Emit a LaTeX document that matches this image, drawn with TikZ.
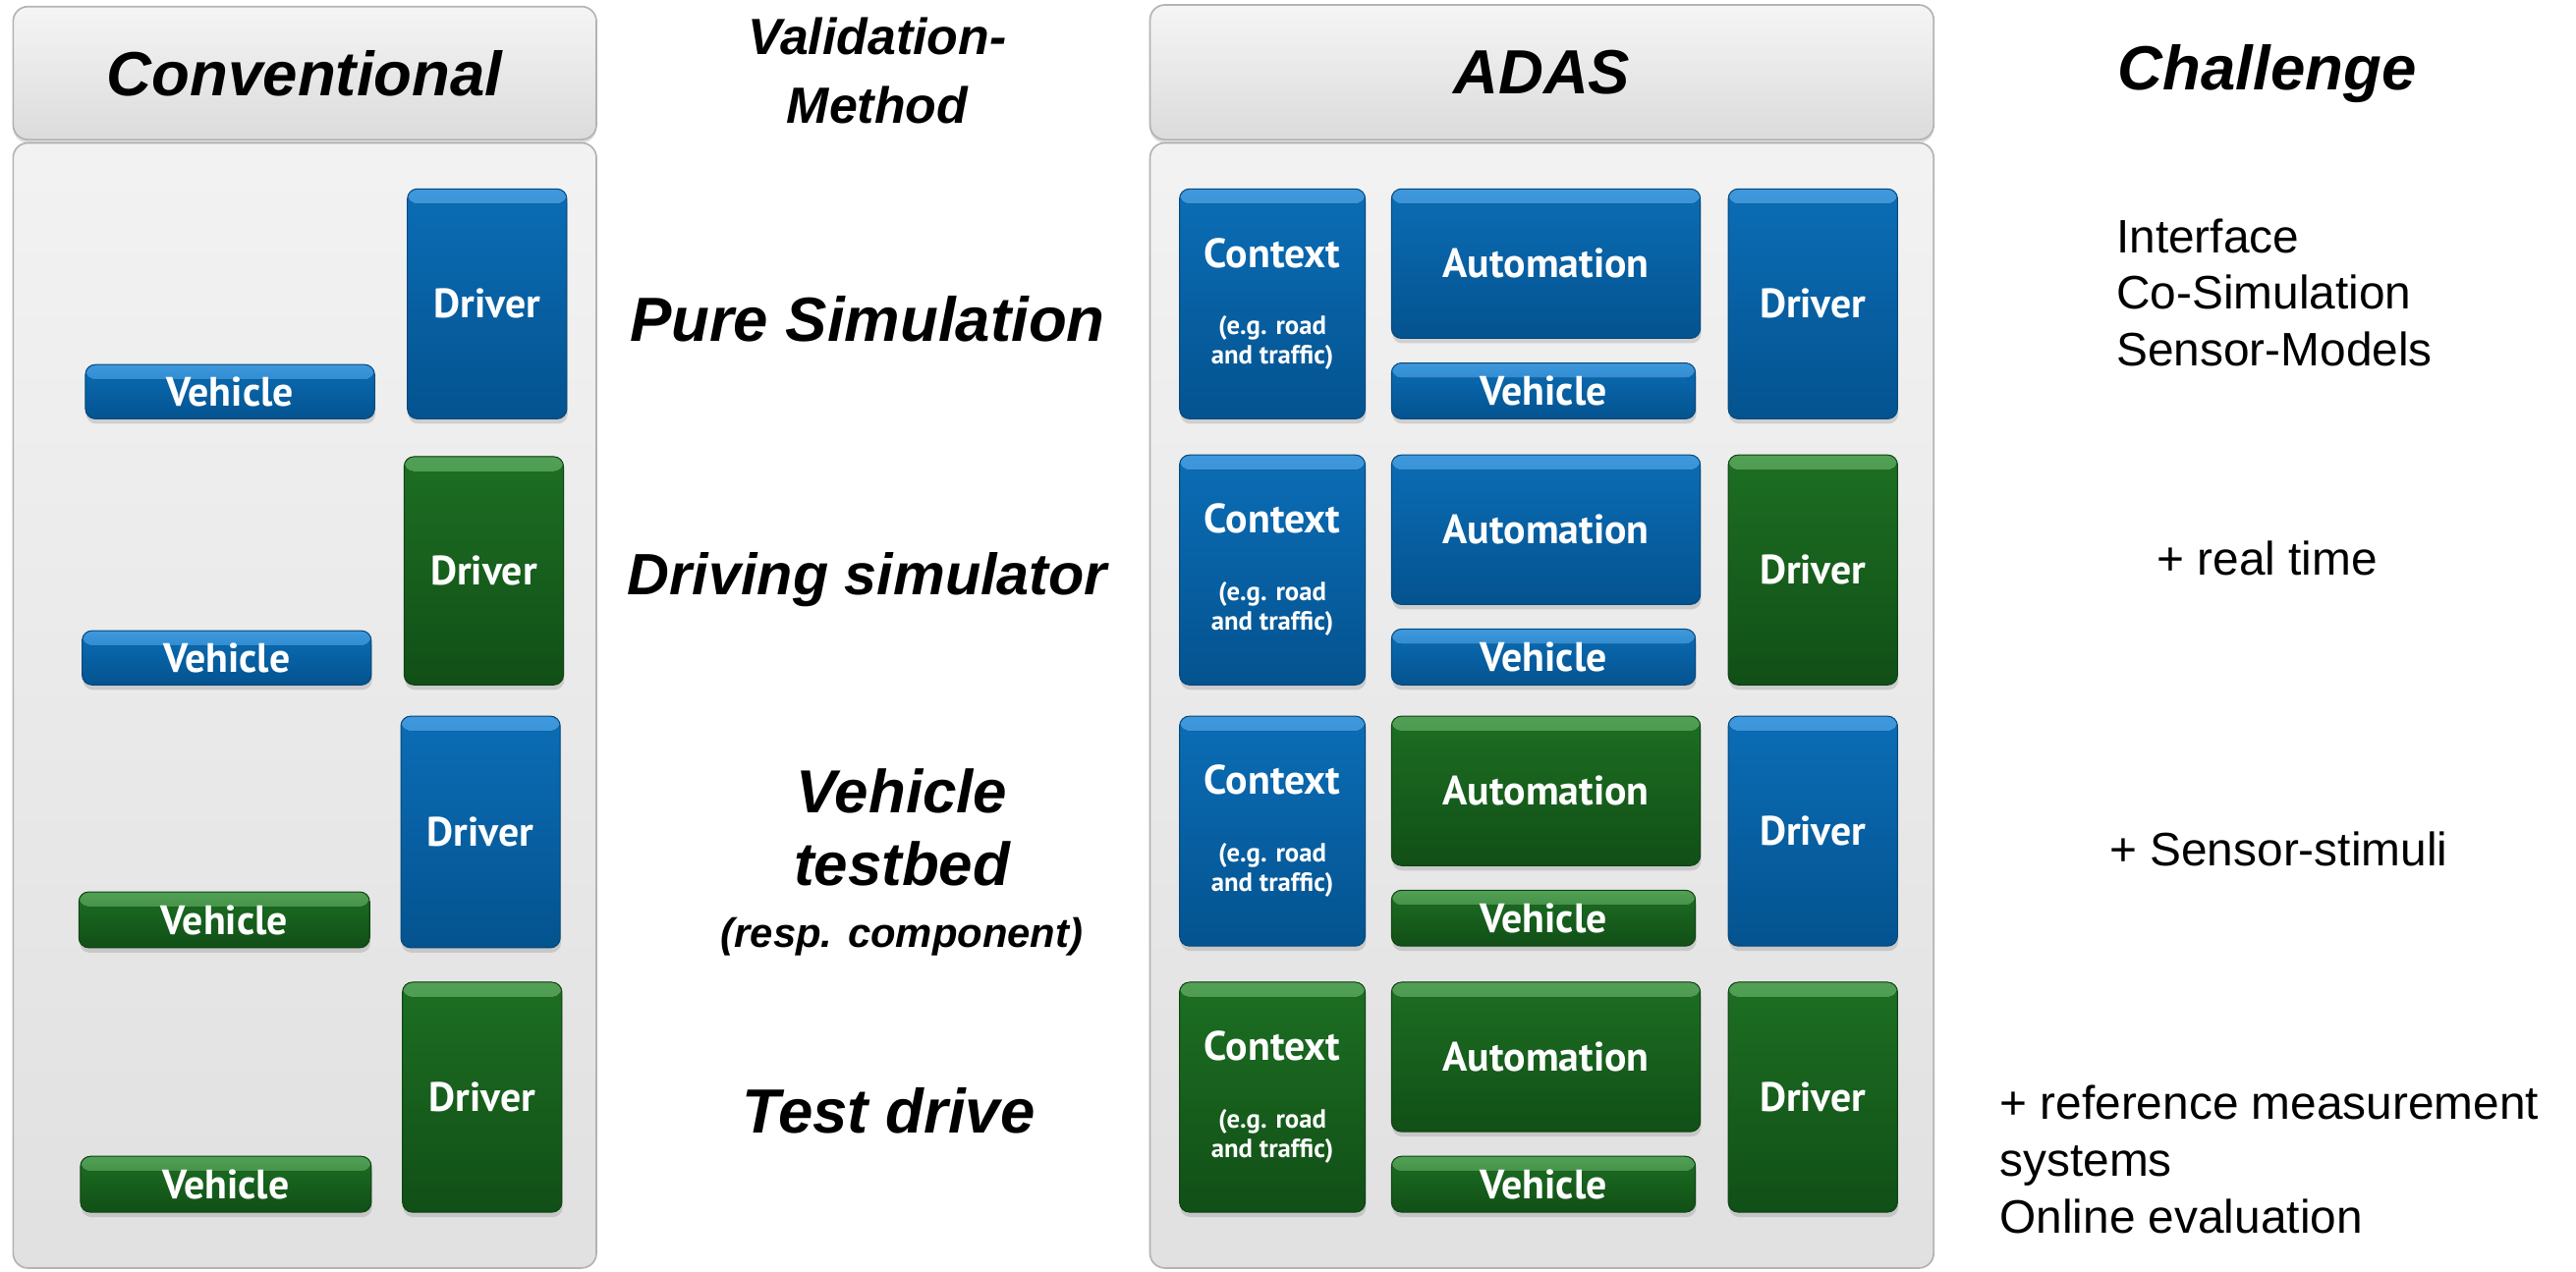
\documentclass[tikz,border=0pt]{standalone}
\usepackage{fontspec}
\setmainfont{Liberation Sans}
\newfontfamily\boxfont{PT Sans}
\usetikzlibrary{shadows}
\definecolor{blutop}{HTML}{0B6DB6}
\definecolor{blubot}{HTML}{04538F}
\definecolor{bluhi}{HTML}{3F98DC}
\definecolor{blurim}{HTML}{03487D}
\definecolor{grntop}{HTML}{1D6F23}
\definecolor{grnbot}{HTML}{114F17}
\definecolor{grnhi}{HTML}{52A055}
\definecolor{grnrim}{HTML}{0E4313}
\definecolor{panelrim}{HTML}{B3B3B3}

\begin{document}
\begin{tikzpicture}[x=1pt,y=-1pt,
  headbox/.style={draw=panelrim,line width=1pt,rounded corners=9pt,top color=black!4,bottom color=black!14,
    drop shadow={shadow xshift=0pt,shadow yshift=-2pt,opacity=0.25},
    font=\bfseries\itshape\fontsize{38}{44}\selectfont},
  bodybox/.style={draw=panelrim,line width=1pt,rounded corners=9pt,top color=black!5,bottom color=black!12},
  box/.style={rounded corners=6pt,line width=0.6pt,inner sep=0pt,text=white,
    font=\boxfont\bfseries\fontsize{25}{30}\selectfont,
    drop shadow={shadow xshift=0.5pt,shadow yshift=-3pt,opacity=0.28}},
  blu/.style={box,draw=blurim,top color=blutop,bottom color=blubot,
    path picture={\fill[top color=bluhi,bottom color=blutop] (path picture bounding box.north west) rectangle ([yshift=-9pt]path picture bounding box.north east);}},
  grn/.style={box,draw=grnrim,top color=grntop,bottom color=grnbot,
    path picture={\fill[top color=grnhi,bottom color=grntop] (path picture bounding box.north west) rectangle ([yshift=-9pt]path picture bounding box.north east);}},
  method/.style={align=center,inner sep=0pt,font=\bfseries\itshape\fontsize{38}{44}\selectfont},
  chal/.style={align=left,inner sep=0pt,font=\fontsize{28.6}{34.5}\selectfont},
  ctxtext/.style={align=center}]
  \useasboundingbox (0,0) rectangle (1568,774);

  % column frames
  \node[bodybox,minimum width=355pt,minimum height=685pt] (convbody) at (185.5,429.5) {};
  \node[bodybox,minimum width=477pt,minimum height=685pt] (adasbody) at (938.5,429.5) {};
  \node[headbox,minimum width=355pt,minimum height=81pt] (convhead) at (185.5,44.5) {Conventional};
  \node[headbox,minimum width=477pt,minimum height=82pt] (adashead) at (938.5,44) {ADAS};
  \node[method,font=\bfseries\itshape\fontsize{31}{42}\selectfont] (valhead) at (534,43) {Validation-\\Method};
  \node[method] (chalhead) at (1380,45) {Challenge};

  % conventional column
  \node[blu,minimum width=97pt,minimum height=140pt] (cdrv1) at (296.5,185) {Driver};
  \node[blu,minimum width=176pt,minimum height=33pt] (cveh1) at (140,238.5) {Vehicle};
  \node[grn,minimum width=97pt,minimum height=139pt] (cdrv2) at (294.5,347.5) {Driver};
  \node[blu,minimum width=176pt,minimum height=33pt] (cveh2) at (138,400.5) {Vehicle};
  \node[blu,minimum width=97pt,minimum height=141pt] (cdrv3) at (292.5,506.5) {Driver};
  \node[grn,minimum width=177pt,minimum height=34pt] (cveh3) at (136.5,560) {Vehicle};
  \node[grn,minimum width=97pt,minimum height=140pt] (cdrv4) at (293.5,668) {Driver};
  \node[grn,minimum width=177pt,minimum height=34pt] (cveh4) at (137.5,721) {Vehicle};

  % validation methods
  \node[method] (meth1) at (528,194) {Pure Simulation};
  \node[method,font=\bfseries\itshape\fontsize{35.5}{44}\selectfont] (meth2) at (528,353) {Driving simulator};
  \node[method,font=\bfseries\itshape\fontsize{37}{44}\selectfont] (meth3) at (549,525)
    {Vehicle\\testbed\\[-6pt]{\fontsize{25}{28}\selectfont (resp. component)}};
  \node[method] (meth4) at (541,676) {Test drive};

  % ADAS column
  \node[blu,ctxtext,minimum width=113pt,minimum height=140pt] (ctx1) at (774.5,185)
    {Context\\[11pt]{\fontsize{16}{18}\selectfont (e.g. road}\\[-12pt]{\fontsize{16}{18}\selectfont and traffic)}};
  \node[blu,minimum width=188pt,minimum height=91pt] (aut1) at (941,160.5) {Automation};
  \node[blu,minimum width=185pt,minimum height=34pt] (aveh1) at (939.5,238) {Vehicle};
  \node[blu,minimum width=103pt,minimum height=140pt] (adrv1) at (1103.5,185) {Driver};

  \node[blu,ctxtext,minimum width=113pt,minimum height=140pt] (ctx2) at (774.5,347)
    {Context\\[11pt]{\fontsize{16}{18}\selectfont (e.g. road}\\[-12pt]{\fontsize{16}{18}\selectfont and traffic)}};
  \node[blu,minimum width=188pt,minimum height=91pt] (aut2) at (941,322.5) {Automation};
  \node[blu,minimum width=185pt,minimum height=34pt] (aveh2) at (939.5,400) {Vehicle};
  \node[grn,minimum width=103pt,minimum height=140pt] (adrv2) at (1103.5,347) {Driver};

  \node[blu,ctxtext,minimum width=113pt,minimum height=140pt] (ctx3) at (774.5,506)
    {Context\\[11pt]{\fontsize{16}{18}\selectfont (e.g. road}\\[-12pt]{\fontsize{16}{18}\selectfont and traffic)}};
  \node[grn,minimum width=188pt,minimum height=91pt] (aut3) at (941,481.5) {Automation};
  \node[grn,minimum width=185pt,minimum height=34pt] (aveh3) at (939.5,559) {Vehicle};
  \node[blu,minimum width=103pt,minimum height=140pt] (adrv3) at (1103.5,506) {Driver};

  \node[grn,ctxtext,minimum width=113pt,minimum height=140pt] (ctx4) at (774.5,668)
    {Context\\[11pt]{\fontsize{16}{18}\selectfont (e.g. road}\\[-12pt]{\fontsize{16}{18}\selectfont and traffic)}};
  \node[grn,minimum width=188pt,minimum height=91pt] (aut4) at (941,643.5) {Automation};
  \node[grn,minimum width=185pt,minimum height=34pt] (aveh4) at (939.5,721) {Vehicle};
  \node[grn,minimum width=103pt,minimum height=140pt] (adrv4) at (1103.5,668) {Driver};

  % challenges
  \node[chal,anchor=west] (chl1) at (1288,178) {Interface\\Co-Simulation\\Sensor-Models};
  \node[chal] (chl2) at (1380,340) {+ real time};
  \node[chal] (chl3) at (1387,517) {+ Sensor-stimuli};
  \node[chal,anchor=west] (chl4) at (1217,706) {+ reference measurement\\systems\\Online evaluation};
\end{tikzpicture}
\end{document}
